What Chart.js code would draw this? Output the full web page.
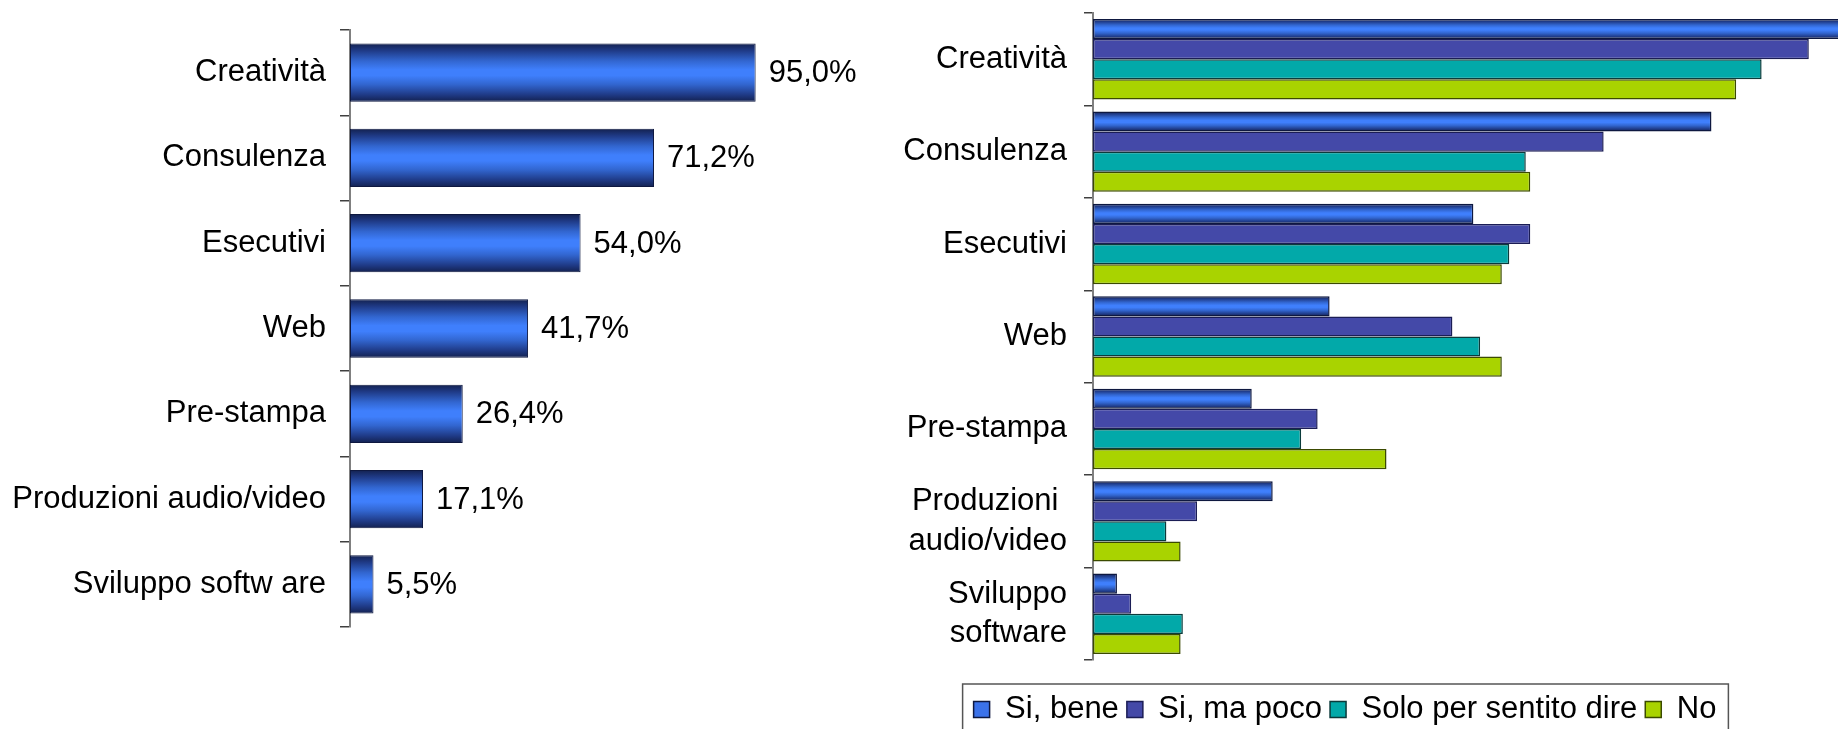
<!DOCTYPE html>
<html lang="it">
<head>
    <meta charset="UTF-8">
    <title>Servizi offerti</title>
    <script src="https://cdn.jsdelivr.net/npm/chart.js"></script>
    <style>
        html, body { margin: 0; padding: 0; background: white; overflow: hidden; }
        #leftChart { position: absolute; left: 0; top: 0; }
        #rightChart { position: absolute; left: 852px; top: 0; }
    </style>
</head>
<body>

<canvas id="leftChart" width="900" height="729"></canvas>
<canvas id="rightChart" width="986" height="735"></canvas>

<script>
// categorie
const leftLabels = ["Creatività", "Consulenza", "Esecutivi", "Web", "Pre-stampa", "Produzioni audio/video", "Sviluppo softw are"];
const rightLabels = ["Creatività", "Consulenza", "Esecutivi", "Web", "Pre-stampa", ["Produzioni ", "audio/video"], ["Sviluppo", "software"]];

// valori grafico sinistro (%)
const totals = [95.0, 71.2, 54.0, 41.7, 26.4, 17.1, 5.5];

// serie grafico destro
const seriesNames = ["Si, bene", "Si, ma poco", "Solo per sentito dire", "No"];
const siBene = [100, 82.6, 50.8, 31.6, 21.2, 24.0, 3.2];
const siMaPoco = [95.6, 68.2, 58.4, 48.0, 30.0, 13.9, 5.1];
const soloSentito = [89.3, 57.8, 55.6, 51.7, 27.8, 9.8, 12.0];
const no = [85.9, 58.4, 54.6, 54.6, 39.2, 11.7, 11.7];

const FONT = "'Liberation Sans', Arial, sans-serif";
const FSIZE = 31;
const BLUE = '#3b72ea';

function blueFill(c) {
    if (c.type !== 'data') return BLUE;
    const el = c.chart.getDatasetMeta(c.datasetIndex).data[c.dataIndex];
    if (!el || !el.height || isNaN(el.y)) return BLUE;
    const top = el.y - el.height / 2;
    const g = c.chart.ctx.createLinearGradient(0, top, 0, top + el.height);
    g.addColorStop(0, '#13214f');
    g.addColorStop(0.12, '#1f3a86');
    g.addColorStop(0.3, '#3266d0');
    g.addColorStop(0.45, '#3f7ffc');
    g.addColorStop(0.55, '#3f7ffc');
    g.addColorStop(0.7, '#3266d0');
    g.addColorStop(0.88, '#1f3a86');
    g.addColorStop(1, '#13214f');
    return g;
}

const valueLabels = {
    id: 'valueLabels',
    afterDatasetsDraw(chart) {
        const ctx = chart.ctx;
        ctx.save();
        ctx.font = FSIZE + 'px ' + FONT;
        ctx.fillStyle = '#000';
        ctx.textAlign = 'left';
        ctx.textBaseline = 'middle';
        chart.getDatasetMeta(0).data.forEach((bar, i) => {
            const txt = totals[i].toFixed(1).replace('.', ',') + '%';
            ctx.fillText(txt, bar.x + 13, bar.y + 1);
        });
        ctx.restore();
    }
};

const legendBox = {
    id: 'legendBox',
    afterDraw(chart) {
        const hb = chart.legend.legendHitBoxes;
        if (!hb || !hb.length) return;
        const last = hb[hb.length - 1];
        const left = hb[0].left - 11;
        const right = last.left + last.width + 12;
        const top = hb[0].top - 10;
        const ctx = chart.ctx;
        ctx.save();
        ctx.strokeStyle = '#555';
        ctx.lineWidth = 1.5;
        ctx.strokeRect(left, top, right - left, chart.height - top + 10);
        ctx.restore();
    }
};

function yAxis(width, tickLen, pad, lineHeight) {
    return {
        afterFit: (scale) => {
            scale.width = width;
            scale.paddingTop = 0;
            scale.paddingBottom = 0;
        },
        grid: { drawOnChartArea: false, drawTicks: true, tickLength: tickLen, color: '#404040', lineWidth: 1.5 },
        border: { display: true, color: '#808080', width: 2 },
        ticks: { color: '#000', padding: pad, font: { family: FONT, size: FSIZE, lineHeight: lineHeight } }
    };
}

let leftChart = new Chart(document.getElementById('leftChart'), {
    type: 'bar',
    data: {
        labels: leftLabels,
        datasets: [{
            data: totals,
            backgroundColor: blueFill,
            borderColor: '#0e1840',
            borderWidth: 1,
            borderSkipped: false,
            categoryPercentage: 0.683,
            barPercentage: 1
        }]
    },
    options: {
        indexAxis: 'y',
        responsive: false,
        animation: false,
        layout: { padding: { top: 30, bottom: 102, right: 123, left: 0 } },
        plugins: { legend: { display: false }, tooltip: { enabled: false } },
        scales: {
            x: { display: false, min: 0, max: 100 },
            y: yAxis(350, 10, 14, 1.2)
        }
    },
    plugins: [valueLabels]
});

const borders = ['#0e1840', '#1b1d55', '#0b3b3b', '#3b4a00'];
const fills = [blueFill, '#4449a8', '#02a9a9', '#a9d300'];
const rightSeries = [siBene, siMaPoco, soloSentito, no];

let rightChart = new Chart(document.getElementById('rightChart'), {
    type: 'bar',
    data: {
        labels: rightLabels,
        datasets: rightSeries.map((vals, i) => ({
            label: seriesNames[i],
            data: vals,
            backgroundColor: fills[i],
            borderColor: borders[i],
            borderWidth: 1.5,
            borderSkipped: false,
            categoryPercentage: 0.87,
            barPercentage: 1
        }))
    },
    options: {
        indexAxis: 'y',
        responsive: false,
        animation: false,
        layout: { padding: { top: 13, bottom: 0, right: 0, left: 0 } },
        plugins: {
            tooltip: { enabled: false },
            legend: {
                position: 'bottom',
                labels: {
                    color: '#000',
                    boxWidth: 16,
                    boxHeight: 16,
                    padding: 8,
                    font: { family: FONT, size: FSIZE },
                    generateLabels: (chart) => Chart.defaults.plugins.legend.labels.generateLabels(chart).map(item => {
                        if (typeof item.fillStyle !== 'string') item.fillStyle = BLUE;
                        return item;
                    })
                }
            }
        },
        scales: {
            x: {
                display: true, min: 0, max: 99.5,
                afterFit: (scale) => { scale.height = 26; },
                grid: { display: false },
                border: { display: false },
                ticks: { display: false }
            },
            y: yAxis(241, 9, 17, 1.27)
        }
    },
    plugins: [legendBox]
});

leftChart.update();
rightChart.update();
</script>
</body>
</html>
